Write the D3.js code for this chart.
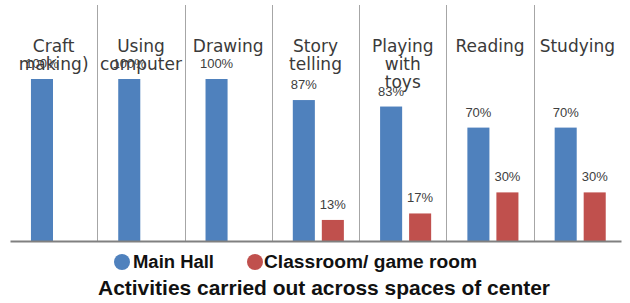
<!DOCTYPE html>
<html>
<head>
<meta charset="utf-8">
<script src="https://cdn.jsdelivr.net/npm/d3@7"></script>
<style>
  body { margin: 0; background: #fff; }
  svg { display: block; }
</style>
</head>
<body>
<div id="chart"></div>
<script>
// data
const categories = ["Craft making)", "Using computer", "Drawing", "Story telling", "Playing with toys", "Reading", "Studying"];
const labelLines = [["Craft", "making)"], ["Using", "computer"], ["Drawing"], ["Story", "telling"], ["Playing", "with", "toys"], ["Reading"], ["Studying"]];
const mainHall = [100, 100, 100, 87, 83, 70, 70];
const classroom = [null, null, null, 13, 17, 30, 30];
const seriesNames = ["Main Hall", "Classroom/ game room"];
const colors = ["#4f81bd", "#c0504d"];

const width = 630, height = 303;
const base = 241, top100 = 79;

const svg = d3.select("#chart").append("svg")
  .attr("width", width)
  .attr("height", height);

const x0 = d3.scaleBand().domain(categories).range([10, 621]).padding(0);
const x1 = d3.scaleBand().domain(["main", "class"])
  .range([x0.bandwidth() * 0.24, x0.bandwidth() * 0.825])
  .paddingInner(0.24);
const y = d3.scaleLinear().domain([0, 100]).range([base, top100]);

// vertical separators between categories
svg.append("g").selectAll("line")
  .data(categories.slice(1))
  .enter().append("line")
  .attr("x1", d => Math.round(x0(d)) + 0.5)
  .attr("x2", d => Math.round(x0(d)) + 0.5)
  .attr("y1", 5)
  .attr("y2", base)
  .attr("stroke", "#a6a6a6")
  .attr("stroke-width", 1);

const rows = categories.map((c, i) => ({ cat: c, lines: labelLines[i], main: mainHall[i], cls: classroom[i] }));

const groups = svg.selectAll(".cat")
  .data(rows)
  .enter().append("g")
  .attr("class", "cat")
  .attr("transform", d => `translate(${x0(d.cat)},0)`);

// category labels at top
groups.append("text")
  .attr("x", x0.bandwidth() / 2)
  .attr("text-anchor", "middle")
  .style("font-family", "'DejaVu Sans', sans-serif")
  .style("font-size", "17px")
  .attr("fill", "#3a3a3a")
  .selectAll("tspan")
  .data(d => d.lines)
  .enter().append("tspan")
  .attr("x", x0.bandwidth() / 2)
  .attr("y", (d, i) => 52 + i * 18)
  .text(d => d);

/* Main Hall bars */
groups.append("rect")
  .attr("x", x1("main"))
  .attr("y", d => y(d.main))
  .attr("width", x1.bandwidth())
  .attr("height", d => base - y(d.main))
  .attr("fill", colors[0]);

groups.append("text")
  .attr("x", x1("main") + x1.bandwidth() / 2)
  .attr("y", d => y(d.main) - 11)
  .attr("text-anchor", "middle")
  .style("font-family", "'Liberation Sans', Arial, sans-serif")
  .style("font-size", "13px")
  .attr("fill", "#404040")
  .text(d => d.main + "%");

/* Classroom bars */
const withCls = groups.filter(d => d.cls != null);
withCls.append("rect")
  .attr("x", x1("class"))
  .attr("y", d => y(d.cls))
  .attr("width", x1.bandwidth())
  .attr("height", d => base - y(d.cls))
  .attr("fill", colors[1]);

withCls.append("text")
  .attr("x", x1("class") + x1.bandwidth() / 2)
  .attr("y", d => y(d.cls) - 11)
  .attr("text-anchor", "middle")
  .style("font-family", "'Liberation Sans', Arial, sans-serif")
  .style("font-size", "13px")
  .attr("fill", "#404040")
  .text(d => d.cls + "%");

// x axis line
const xAxis = d3.axisBottom(x0).tickValues([]).tickSizeOuter(0);
const ax = svg.append("g")
  .attr("transform", `translate(0,${base})`)
  .call(xAxis);
ax.select(".domain").attr("stroke", "#808080").attr("stroke-width", 2);

// legend
const legend = [
  { name: seriesNames[0], cx: 122, tx: 133, len: 81 },
  { name: seriesNames[1], cx: 255, tx: 264, len: 213 }
];
legend.forEach((l, i) => {
  svg.append("circle").attr("cx", l.cx).attr("cy", 262).attr("r", 8).attr("fill", colors[i]);
  svg.append("text")
    .attr("x", l.tx).attr("y", 268)
    .attr("textLength", l.len).attr("lengthAdjust", "spacingAndGlyphs")
    .style("font-family", "'Liberation Sans', Arial, sans-serif")
    .style("font-size", "18px").style("font-weight", "bold")
    .attr("fill", "#111")
    .text(l.name);
});

// title
svg.append("text")
  .attr("x", 98).attr("y", 295)
  .attr("textLength", 452).attr("lengthAdjust", "spacingAndGlyphs")
  .style("font-family", "'Liberation Sans', Arial, sans-serif")
  .style("font-size", "21px").style("font-weight", "bold")
  .attr("fill", "#111")
  .text("Activities carried out across spaces of  center");
</script>
</body>
</html>
